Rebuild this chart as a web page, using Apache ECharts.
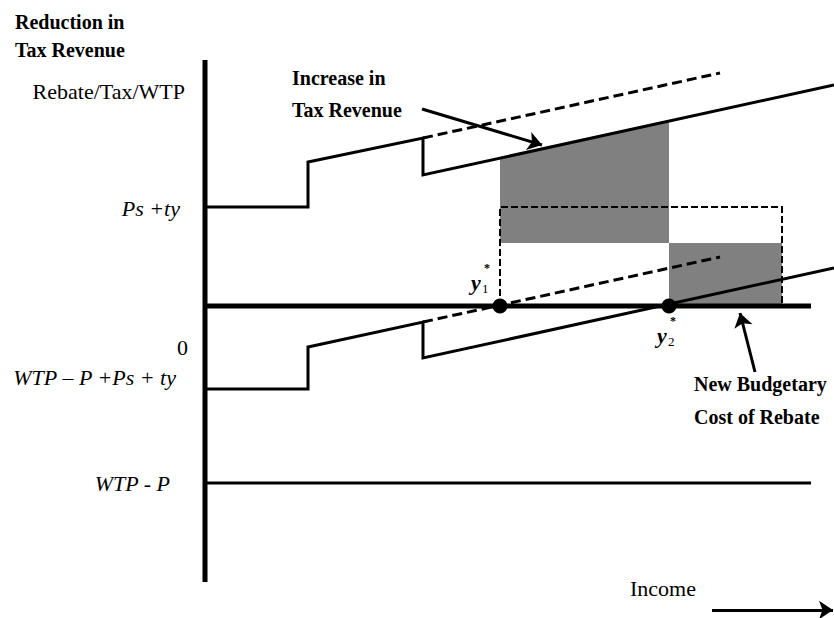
<!DOCTYPE html>
<html><head><meta charset="utf-8">
<script src="https://cdn.jsdelivr.net/npm/echarts@6/dist/echarts.min.js"></script>
<style>html,body{margin:0;padding:0;background:#fff}#c{width:834px;height:618px}</style>
</head><body><div id="c"></div>
<script>
// Schematic values: x = income (0 at vertical axis), y = rebate/tax/WTP (0 at horizontal axis)
const axisVertical = [[0, 246], [0, -276]];
const zeroLine = [[0, 0], [606, 0]];
const upperSchedule = [[0, 99], [103, 99], [103, 144], [218, 168], [218, 131], [629, 221]];
const upperDashed = [[218, 168], [515, 233]];
const lowerSchedule = [[0, -83], [103, -83], [103, -41], [218, -16], [218, -52], [629, 38]];
const lowerDashed = [[218, -16], [515, 49]];
const wtpMinusP = [[0, -177], [606, -177]];
const shadedUpper = [[295, 63], [295, 149], [464, 186], [464, 63]];
const shadedLower = [[464, 0], [464, 63], [577, 63], [577, 0]];
const dashedRect = [[295, 0], [295, 99], [577, 99], [577, 0]];
const equilibria = [[295, 0], [464, 0]];
const arrows = [
  [[217, 197], [337, 161]],
  [[550, -66], [535, -7]],
  [[507, -304], [628, -304]]
];

const chart = echarts.init(document.getElementById('c'), null, {renderer: 'svg'});
const serif = '"Liberation Serif", "Times New Roman", serif';

function poly(pts, style) {
  return {
    type: 'custom', z: 1, silent: true,
    data: [0],
    renderItem: function (params, api) {
      return {type: 'polygon', shape: {points: pts.map(p => api.coord(p))}, style: style};
    }
  };
}
function line(data, width, type) {
  return {type: 'line', data: data, symbol: 'none', silent: true, z: 3,
    lineStyle: {color: '#000', width: width, type: type || 'solid', cap: 'butt', join: 'miter', opacity: 1}};
}
function txt(x, y, text, font, align) {
  return {type: 'text', x: x, y: y, silent: true,
    style: {text: text, font: font, fill: '#000', opacity: 1, textAlign: align || 'left', textVerticalAlign: 'middle'}};
}

chart.setOption({
  animation: false,
  grid: {left: 0, right: 0, top: 0, bottom: 0},
  xAxis: {type: 'value', min: -205, max: 629, show: false},
  yAxis: {type: 'value', min: -312, max: 306, show: false},
  series: [
    poly(shadedUpper, {fill: '#808080'}),
    poly(shadedLower, {fill: '#808080'}),
    line(dashedRect, 2, [7, 3]),
    line(axisVertical, 5),
    line(zeroLine, 5),
    line(upperSchedule, 3),
    line(upperDashed, 3, [10, 5]),
    line(lowerSchedule, 3),
    line(lowerDashed, 3, [10, 5]),
    line(wtpMinusP, 3),
    {type: 'scatter', data: equilibria, symbolSize: 15, z: 5, silent: true, itemStyle: {color: '#000', opacity: 1}},
    {type: 'lines', coordinateSystem: 'cartesian2d', z: 4, silent: true,
      symbol: ['none', 'arrow'], symbolSize: 14,
      lineStyle: {color: '#000', width: 3, opacity: 1},
      data: arrows.map(a => ({coords: a}))}
  ],
  graphic: [
    txt(15, 22, 'Reduction in', 'bold 20px ' + serif),
    txt(15, 50, 'Tax Revenue', 'bold 20px ' + serif),
    txt(185, 91, 'Rebate/Tax/WTP', '22px ' + serif, 'right'),
    txt(292, 78, 'Increase in', 'bold 20px ' + serif),
    txt(292, 110, 'Tax Revenue', 'bold 20px ' + serif),
    txt(180, 208, 'Ps +ty', 'italic 22px ' + serif, 'right'),
    txt(188, 347, '0', '22px ' + serif, 'right'),
    txt(176, 377, 'WTP \u2013 P +Ps + ty', 'italic 22px ' + serif, 'right'),
    txt(170, 483, 'WTP - P', 'italic 22px ' + serif, 'right'),
    txt(471, 282, 'y', 'bold italic 22px ' + serif),
    txt(482, 288, '1', '13px ' + serif),
    txt(484, 268, '*', 'bold 12px ' + serif),
    txt(657, 335, 'y', 'bold italic 22px ' + serif),
    txt(668, 341, '2', '13px ' + serif),
    txt(670, 321, '*', 'bold 12px ' + serif),
    txt(694, 384, 'New Budgetary', 'bold 20px ' + serif),
    txt(694, 417, 'Cost of Rebate', 'bold 20px ' + serif),
    txt(630, 588, 'Income', '22px ' + serif)
  ]
});
</script></body></html>
